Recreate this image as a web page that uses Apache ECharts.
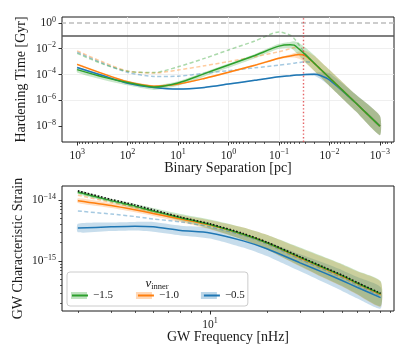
<!DOCTYPE html>
<html>
<head>
<meta charset="utf-8">
<script src="https://cdn.jsdelivr.net/npm/echarts@6/dist/echarts.min.js"></script>
<style>
  html, body { margin: 0; padding: 0; background: #fff; }
  #chart { width: 415px; height: 346px; }
</style>
</head>
<body>
<div id="chart"></div>
<script>
// ---- top panel: hardening time vs binary separation ----
// separations in pc, times stored as log10(T / Gyr)
var sepPc = [1000, 300, 100, 30, 10, 3, 1, 0.3, 0.1, 0.06, 0.05, 0.04, 0.03, 0.02, 0.015, 0.01, 0.003, 0.001];

var tGreen  = [-3.62, -4.20, -4.62, -4.97, -4.65, -3.93, -3.26, -2.52, -1.80, -1.69, -1.72, -2.02, -2.46, -3.12, -3.59, -4.25, -6.21, -8.00];
var tOrange = [-3.21, -3.95, -4.56, -4.90, -4.74, -4.30, -3.83, -3.28, -2.74, -2.56, -2.50, -2.45, -2.55, -3.13, -3.59, -4.25, -6.21, -8.00];
var tBlue   = [-3.45, -4.10, -4.68, -5.00, -5.13, -5.00, -4.74, -4.45, -4.17, -4.09, -4.06, -4.03, -4.00, -3.98, -4.08, -4.42, -6.21, -8.00];

var tGreenDash  = [-2.36, -3.20, -3.75, -3.85, -3.40, -2.75, -2.10, -1.40, -0.70, -0.95, -1.20, -1.70, -2.40, -3.12, -3.59, -4.25, -6.21, -8.00];
var tOrangeDash = [-2.17, -3.05, -3.73, -3.88, -3.65, -3.32, -3.00, -2.62, -2.23, -2.00, -1.90, -2.02, -2.46, -3.12, -3.59, -4.25, -6.21, -8.00];
var tBlueDash   = [-2.27, -3.15, -3.83, -4.15, -4.13, -3.90, -3.70, -3.48, -3.27, -3.17, -3.12, -3.07, -3.00, -3.12, -3.59, -4.25, -6.21, -8.00];

var tGreenLo  = [-3.84, -4.42, -4.84, -5.19, -4.87, -4.15, -3.48, -2.74, -2.00, -1.95, -2.15, -2.55, -3.05, -3.72, -4.20, -4.88, -6.85, -8.70];
var tGreenHi  = [-3.50, -4.08, -4.50, -4.85, -4.53, -3.81, -3.14, -2.40, -1.62, -1.47, -1.42, -1.55, -1.90, -2.50, -2.98, -3.62, -5.55, -7.20];
var tOrangeLo = [-3.28, -4.02, -4.63, -4.97, -4.81, -4.37, -3.90, -3.35, -2.82, -2.68, -2.68, -2.78, -3.08, -3.72, -4.20, -4.88, -6.85, -8.70];
var tOrangeHi = [-3.14, -3.88, -4.49, -4.83, -4.67, -4.23, -3.76, -3.21, -2.66, -2.44, -2.34, -2.22, -2.15, -2.55, -2.98, -3.62, -5.55, -7.20];
var tBlueLo   = [-3.51, -4.16, -4.74, -5.06, -5.19, -5.06, -4.80, -4.51, -4.23, -4.15, -4.12, -4.09, -4.07, -4.10, -4.35, -4.88, -6.85, -8.70];
var tBlueHi   = [-3.39, -4.04, -4.62, -4.94, -5.07, -4.94, -4.68, -4.39, -4.11, -4.03, -4.00, -3.97, -3.93, -3.86, -3.82, -3.90, -5.55, -7.20];

var hubbleGyr = 1.0;      // grey dashed line
var limitGyr = 0.1;       // dark solid line
var sepMarkPc = 0.032;    // red dotted line

// ---- bottom panel: characteristic strain vs GW frequency ----
var freqNHz = [2, 3, 4, 5, 7, 10, 15, 20, 30, 40, 50, 60, 80];
// log10(h_c)
var hGreen  = [-13.87, -14.01, -14.10, -14.18, -14.29, -14.40, -14.56, -14.70, -14.94, -15.11, -15.24, -15.36, -15.54];
var hOrange = [-14.01, -14.09, -14.16, -14.22, -14.31, -14.41, -14.56, -14.70, -14.95, -15.12, -15.25, -15.37, -15.55];
var hBlue   = [-14.46, -14.44, -14.43, -14.44, -14.50, -14.54, -14.67, -14.80, -15.03, -15.19, -15.32, -15.43, -15.60];
var hFiducial = [-13.85, -13.99, -14.08, -14.16, -14.28, -14.39, -14.55, -14.69, -14.93, -15.10, -15.23, -15.35, -15.53];

var hGreenDash  = [-13.88, -14.02, -14.11, -14.18, -14.29, -14.40, -14.56, -14.70, -14.94, -15.11, -15.24, -15.36, -15.54];
var hOrangeDash = [-13.92, -14.04, -14.12, -14.19, -14.29, -14.40, -14.56, -14.70, -14.94, -15.11, -15.24, -15.36, -15.54];
var hBlueDash   = [-14.18, -14.23, -14.27, -14.31, -14.36, -14.44, -14.58, -14.72, -14.97, -15.14, -15.27, -15.39, -15.57];

var hGreenLo  = [-13.90, -14.04, -14.14, -14.22, -14.34, -14.47, -14.65, -14.81, -15.08, -15.27, -15.41, -15.54, -15.74];
var hGreenHi  = [-13.84, -13.98, -14.06, -14.13, -14.23, -14.32, -14.45, -14.57, -14.78, -14.93, -15.05, -15.16, -15.33];
var hOrangeLo = [-14.05, -14.13, -14.20, -14.26, -14.36, -14.48, -14.65, -14.81, -15.09, -15.28, -15.42, -15.55, -15.75];
var hOrangeHi = [-13.97, -14.05, -14.12, -14.17, -14.25, -14.33, -14.45, -14.57, -14.79, -14.94, -15.06, -15.17, -15.34];
var hBlueLo   = [-14.53, -14.51, -14.50, -14.52, -14.58, -14.63, -14.78, -14.92, -15.17, -15.35, -15.49, -15.61, -15.78];
var hBlueHi   = [-14.39, -14.37, -14.36, -14.36, -14.42, -14.45, -14.56, -14.68, -14.89, -15.03, -15.15, -15.26, -15.43];

var nuNames = ['\u22121.5', '\u22121.0', '\u22120.5'];

// tick labels (as exponents of 10)
var topXTicks = [3, 2, 1, 0, -1, -2, -3];
var topYTicks = [0, -2, -4, -6, -8];
var botXTicks = [1];
var botYTicks = [-14, -15];

var FONT = 'Liberation Serif';
var GREEN = '#2ca02c', ORANGE = '#ff7f0e', BLUE = '#1f77b4';
var INK = '#1a1a1a';

function pairs(xs, ys) {
  return xs.map(function (x, i) { return [Math.log10(x), ys[i]]; });
}
function minorTicks(lo, hi) {
  var out = [];
  for (var e = Math.floor(lo) - 1; e <= Math.ceil(hi); e++) {
    for (var k = 2; k <= 9; k++) {
      var v = e + Math.log10(k);
      if (v > lo && v < hi) out.push(v);
    }
  }
  return out;
}
function powLabel(v) {
  var e = Math.round(v);
  return '{b|10}{s|' + (e < 0 ? '\u2212' + (-e) : e) + '}';
}
var powRich = {
  b: { fontFamily: FONT, fontSize: 11.5, color: INK },
  s: { fontFamily: FONT, fontSize: 8, color: INK, padding: [0, 0, 7, 0] }
};

var TOP_X = [-3.28, 3.30], TOP_Y = [-9.23, 0.46];
var BOT_X = [0.217, 1.974], BOT_Y = [-15.82, -13.77];

function mainAxis(grid, pos, ext, step, ticks, name, gap, inverse) {
  return {
    type: 'value', gridIndex: grid, position: pos, inverse: !!inverse,
    min: ext[0], max: ext[1], minInterval: step, maxInterval: step,
    axisLine: { show: false, onZero: false },
    axisTick: { show: true, customValues: ticks, length: 3.5, lineStyle: { color: INK, width: 0.9 } },
    axisLabel: { customValues: ticks, formatter: powLabel, rich: powRich, margin: 6 },
    splitLine: { show: true, showMinLine: false, showMaxLine: false, lineStyle: { color: '#ebebeb', width: 0.8 } },
    name: name, nameLocation: 'middle', nameGap: gap, nameMoveOverlap: false,
    nameTextStyle: { fontFamily: FONT, fontSize: 14, color: INK }
  };
}
function minorAxis(grid, pos, ext, inverse) {
  return {
    type: 'value', gridIndex: grid, position: pos, inverse: !!inverse,
    min: ext[0], max: ext[1],
    axisLine: { show: false, onZero: false },
    axisTick: { show: true, customValues: minorTicks(ext[0], ext[1]), length: 2, lineStyle: { color: INK, width: 0.7 } },
    axisLabel: { show: false },
    splitLine: { show: false }
  };
}

var series = [];
// uncertainty band: one polygon through (x, hi) forward and (x, lo) back
function addBand(xi, yi, xs, lo, hi, color) {
  var rows = xs.map(function (x, i) { return [Math.log10(x), lo[i], hi[i]]; });
  series.push({
    type: 'custom', xAxisIndex: xi, yAxisIndex: yi, silent: true, clip: true,
    data: rows, encode: { x: 0, y: [1, 2] },
    renderItem: function (params, api) {
      if (params.dataIndex !== 0) return null;
      var pts = [], i;
      for (i = 0; i < rows.length; i++) pts.push(api.coord([rows[i][0], rows[i][2]]));
      for (i = rows.length - 1; i >= 0; i--) pts.push(api.coord([rows[i][0], rows[i][1]]));
      return {
        type: 'polygon', shape: { points: pts, smooth: 0.2 },
        style: { fill: color, opacity: 0.25 }
      };
    }
  });
}
function addLine(name, xi, yi, xs, ys, color, dashed, extra) {
  var s = {
    name: name, type: 'line', xAxisIndex: xi, yAxisIndex: yi,
    data: pairs(xs, ys), symbol: 'none', smooth: 0.25, silent: true,
    lineStyle: dashed
      ? { color: color, width: 1.5, type: [4, 2.5], opacity: 0.4 }
      : { color: color, width: 1.5 },
    itemStyle: { color: color }
  };
  if (extra) for (var k in extra) s[k] = extra[k];
  series.push(s);
}

// top panel
addBand(0, 0, sepPc, tBlueLo, tBlueHi, BLUE);
addBand(0, 0, sepPc, tOrangeLo, tOrangeHi, ORANGE);
addBand(0, 0, sepPc, tGreenLo, tGreenHi, GREEN);
addLine('top dash b', 0, 0, sepPc, tBlueDash, BLUE, true);
addLine('top dash o', 0, 0, sepPc, tOrangeDash, ORANGE, true);
addLine('top dash g', 0, 0, sepPc, tGreenDash, GREEN, true);
addLine('top b', 0, 0, sepPc, tBlue, BLUE, false);
addLine('top o', 0, 0, sepPc, tOrange, ORANGE, false);
addLine('top g', 0, 0, sepPc, tGreen, GREEN, false, {
  markLine: {
    silent: true, symbol: 'none', label: { show: false },
    data: [
      { yAxis: Math.log10(hubbleGyr), lineStyle: { color: '#bdbdbd', width: 1.5, type: [5, 3] } },
      { yAxis: Math.log10(limitGyr), lineStyle: { color: '#555', width: 1.5, type: 'solid' } },
      { xAxis: Math.log10(sepMarkPc), lineStyle: { color: '#e0474a', opacity: 0.85, width: 1.4, type: [1.4, 2.2] } }
    ]
  }
});

// bottom panel
addBand(2, 1, freqNHz, hBlueLo, hBlueHi, BLUE);
addBand(2, 1, freqNHz, hOrangeLo, hOrangeHi, ORANGE);
addBand(2, 1, freqNHz, hGreenLo, hGreenHi, GREEN);
addLine('bot dash b', 2, 1, freqNHz, hBlueDash, BLUE, true);
addLine('bot dash o', 2, 1, freqNHz, hOrangeDash, ORANGE, true);
addLine('bot dash g', 2, 1, freqNHz, hGreenDash, GREEN, true);
addLine(nuNames[2], 2, 1, freqNHz, hBlue, BLUE, false);
addLine(nuNames[1], 2, 1, freqNHz, hOrange, ORANGE, false);
addLine(nuNames[0], 2, 1, freqNHz, hGreen, GREEN, false);
addLine('fiducial', 2, 1, freqNHz, hFiducial, '#111', false, {
  lineStyle: { color: '#111', width: 1.6, type: [1.6, 1.8] }
});

var legendBase = {
  left: 67, top: 272, orient: 'horizontal', data: nuNames,
  itemWidth: 16, itemHeight: 7, itemGap: 24, padding: [18, 6, 5, 4],
  selectedMode: false
};
function legendOf(extra) {
  var o = {};
  for (var k in legendBase) o[k] = legendBase[k];
  for (var j in extra) o[j] = extra[j];
  return o;
}

var chart = echarts.init(document.getElementById('chart'), null, { renderer: 'canvas' });
chart.setOption({
  backgroundColor: '#fff',
  animation: false,
  grid: [
    { left: 62, top: 17, width: 332, height: 125, show: true, borderColor: INK, borderWidth: 1, backgroundColor: 'transparent' },
    { left: 62, top: 186, width: 332, height: 125, show: true, borderColor: INK, borderWidth: 1, backgroundColor: 'transparent' }
  ],
  xAxis: [
    mainAxis(0, 'bottom', TOP_X, 1, topXTicks, 'Binary Separation [pc]', 19, true),
    minorAxis(0, 'bottom', TOP_X, true),
    mainAxis(1, 'bottom', BOT_X, 1, botXTicks, 'GW Frequency [nHz]', 19, false),
    minorAxis(1, 'bottom', BOT_X, false)
  ],
  yAxis: [
    mainAxis(0, 'left', TOP_Y, 2, topYTicks, 'Hardening Time [Gyr]', 34, false),
    mainAxis(1, 'left', BOT_Y, 1, botYTicks, 'GW Characteristic Strain', 37, false),
    minorAxis(1, 'left', BOT_Y, false)
  ],
  legend: [
    legendOf({
      icon: 'rect', itemStyle: { opacity: 0.3 },
      backgroundColor: 'rgba(255,255,255,0.85)', borderColor: '#cccccc', borderWidth: 1, borderRadius: 3,
      textStyle: { fontFamily: FONT, fontSize: 11, color: 'rgba(0,0,0,0)' }
    }),
    legendOf({
      itemStyle: { opacity: 0 },
      textStyle: { fontFamily: FONT, fontSize: 11, color: INK }
    })
  ],
  graphic: [{
    type: 'text', x: 157, y: 284, z: 50,
    style: {
      text: '{n|\u03bd}{i|inner}', align: 'center', verticalAlign: 'middle', fill: INK,
      rich: {
        n: { fontFamily: FONT, fontSize: 13, fontStyle: 'italic', fill: INK },
        i: { fontFamily: FONT, fontSize: 8.5, fill: INK, padding: [6, 0, 0, 0] }
      }
    }
  }],
  series: series
});
</script>
</body>
</html>
